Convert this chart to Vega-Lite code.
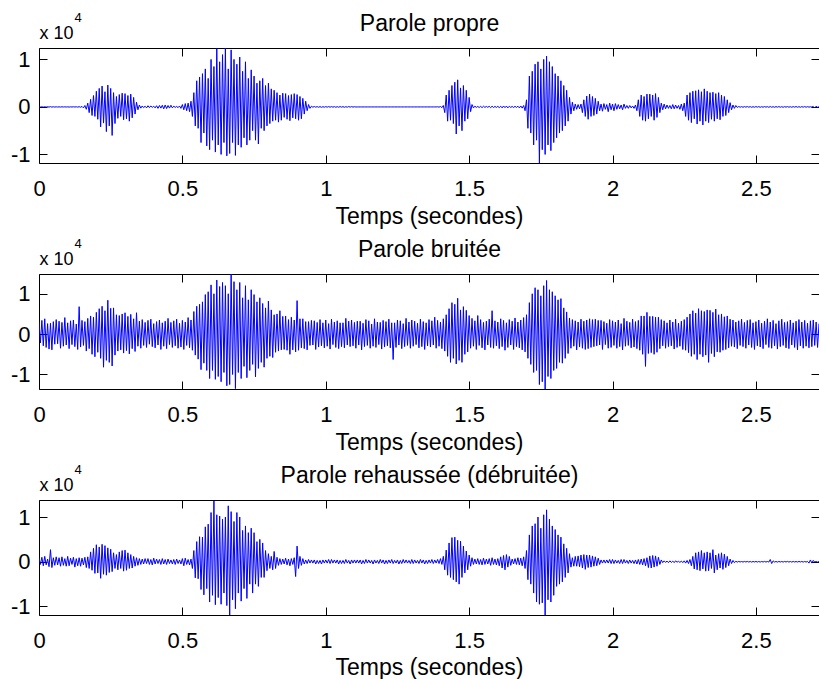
{
"$schema": "https://vega.github.io/schema/vega-lite/v6.json",
"padding": {"left": 10, "top": 11, "right": 0, "bottom": 0},
"spacing": 9,
"config": {
  "font": "Liberation Sans",
  "view": {"stroke": null},
  "axis": {"grid": false, "domainColor": "black", "tickColor": "black", "labelColor": "black", "titleColor": "black", "labelFont": "Liberation Sans", "titleFont": "Liberation Sans", "labelFontSize": 22, "titleFontSize": 23, "titleFontWeight": "normal", "tickSize": -8, "domainWidth": 1, "tickWidth": 1}
},
"data": {"values": [
{"t":0,"a":0,"b":3000,"c":800},
{"t":0.005,"a":-10,"b":-2200,"c":-600},
{"t":0.01,"a":20,"b":3400,"c":1000},
{"t":0.015,"a":-30,"b":-2900,"c":-900},
{"t":0.02,"a":30,"b":3800,"c":1200},
{"t":0.025,"a":-40,"b":-3300,"c":-700},
{"t":0.03,"a":50,"b":2600,"c":600},
{"t":0.035,"a":-40,"b":-3700,"c":-1100},
{"t":0.04,"a":60,"b":2700,"c":2700},
{"t":0.045,"a":-50,"b":-3900,"c":-1300},
{"t":0.05,"a":40,"b":3100,"c":900},
{"t":0.055,"a":-30,"b":-2500,"c":-800},
{"t":0.06,"a":20,"b":3600,"c":1100},
{"t":0.065,"a":-20,"b":-2400,"c":-700},
{"t":0.07,"a":20,"b":3200,"c":900},
{"t":0.075,"a":-30,"b":-3500,"c":-1000},
{"t":0.08,"a":30,"b":2900,"c":1100},
{"t":0.085,"a":-20,"b":-3000,"c":-800},
{"t":0.09,"a":20,"b":4100,"c":700},
{"t":0.095,"a":-20,"b":-2700,"c":-1000},
{"t":0.1,"a":20,"b":2800,"c":1200},
{"t":0.105,"a":-30,"b":-3600,"c":-900},
{"t":0.11,"a":20,"b":3300,"c":800},
{"t":0.115,"a":-20,"b":-2600,"c":-600},
{"t":0.12,"a":30,"b":3500,"c":1000},
{"t":0.125,"a":-20,"b":-3100,"c":-1200},
{"t":0.13,"a":30,"b":2500,"c":700},
{"t":0.135,"a":-40,"b":-3800,"c":-900},
{"t":0.14,"a":50,"b":6800,"c":900},
{"t":0.145,"a":-60,"b":-3200,"c":-1000},
{"t":0.15,"a":100,"b":3400,"c":800},
{"t":0.155,"a":-200,"b":-2800,"c":-700},
{"t":0.16,"a":300,"b":3100,"c":1000},
{"t":0.165,"a":-500,"b":-4200,"c":-1300},
{"t":0.17,"a":800,"b":3900,"c":1100},
{"t":0.175,"a":-1200,"b":-3600,"c":-1500},
{"t":0.18,"a":1600,"b":4500,"c":2200},
{"t":0.185,"a":-1800,"b":-5000,"c":-1900},
{"t":0.19,"a":2400,"b":4200,"c":3000},
{"t":0.195,"a":-2000,"b":-5600,"c":-2600},
{"t":0.2,"a":3300,"b":5400,"c":3800},
{"t":0.205,"a":-2600,"b":-4500,"c":-2500},
{"t":0.21,"a":3900,"b":6300,"c":3300},
{"t":0.215,"a":-4200,"b":-6000,"c":-3700},
{"t":0.22,"a":4400,"b":6900,"c":3900},
{"t":0.225,"a":-3400,"b":-8200,"c":-2800},
{"t":0.23,"a":3200,"b":5800,"c":3600},
{"t":0.235,"a":-5200,"b":-6500,"c":-3000},
{"t":0.24,"a":4600,"b":8400,"c":3100},
{"t":0.245,"a":-4000,"b":-7000,"c":-2400},
{"t":0.25,"a":3900,"b":6400,"c":2800},
{"t":0.255,"a":-6000,"b":-7900,"c":-2200},
{"t":0.26,"a":3000,"b":6500,"c":2000},
{"t":0.265,"a":-3500,"b":-5200,"c":-1500},
{"t":0.27,"a":2200,"b":4800,"c":1600},
{"t":0.275,"a":-2400,"b":-4200,"c":-1800},
{"t":0.28,"a":2600,"b":4600,"c":2200},
{"t":0.285,"a":-2000,"b":-3900,"c":-1500},
{"t":0.29,"a":2900,"b":5000,"c":2500},
{"t":0.295,"a":-2700,"b":-4700,"c":-2100},
{"t":0.3,"a":2800,"b":5300,"c":2600},
{"t":0.305,"a":-2500,"b":-4100,"c":-1900},
{"t":0.31,"a":2400,"b":4400,"c":2000},
{"t":0.315,"a":-3000,"b":-4900,"c":-1500},
{"t":0.32,"a":2700,"b":4900,"c":1600},
{"t":0.325,"a":-2300,"b":-3600,"c":-1400},
{"t":0.33,"a":2000,"b":3800,"c":1200},
{"t":0.335,"a":-1500,"b":-4300,"c":-1000},
{"t":0.34,"a":1000,"b":5300,"c":900},
{"t":0.345,"a":-600,"b":-3000,"c":-800},
{"t":0.35,"a":400,"b":3200,"c":700},
{"t":0.355,"a":-250,"b":-3500,"c":-600},
{"t":0.36,"a":200,"b":3600,"c":600},
{"t":0.365,"a":-150,"b":-2800,"c":-500},
{"t":0.37,"a":150,"b":2900,"c":700},
{"t":0.375,"a":-200,"b":-3300,"c":-400},
{"t":0.38,"a":250,"b":3400,"c":700},
{"t":0.385,"a":-150,"b":-2500,"c":-600},
{"t":0.39,"a":200,"b":3700,"c":500},
{"t":0.395,"a":-100,"b":-3100,"c":-700},
{"t":0.4,"a":150,"b":2600,"c":800},
{"t":0.405,"a":-200,"b":-3400,"c":-500},
{"t":0.41,"a":250,"b":3100,"c":600},
{"t":0.415,"a":-300,"b":-2700,"c":-400},
{"t":0.42,"a":300,"b":3500,"c":500},
{"t":0.425,"a":-250,"b":-3800,"c":-600},
{"t":0.43,"a":350,"b":2800,"c":700},
{"t":0.435,"a":-400,"b":-3000,"c":-500},
{"t":0.44,"a":400,"b":3200,"c":500},
{"t":0.445,"a":-350,"b":-3600,"c":-600},
{"t":0.45,"a":300,"b":3900,"c":600},
{"t":0.455,"a":-250,"b":-2600,"c":-400},
{"t":0.46,"a":350,"b":2900,"c":400},
{"t":0.465,"a":-200,"b":-3300,"c":-500},
{"t":0.47,"a":150,"b":3300,"c":500},
{"t":0.475,"a":-100,"b":-2900,"c":-600},
{"t":0.48,"a":100,"b":3700,"c":600},
{"t":0.485,"a":-150,"b":-3500,"c":-400},
{"t":0.49,"a":200,"b":2700,"c":400},
{"t":0.495,"a":-300,"b":-3200,"c":-500},
{"t":0.5,"a":500,"b":3400,"c":700},
{"t":0.505,"a":-600,"b":-3800,"c":-900},
{"t":0.51,"a":700,"b":3000,"c":800},
{"t":0.515,"a":-800,"b":-2800,"c":-600},
{"t":0.52,"a":800,"b":4100,"c":500},
{"t":0.525,"a":-1000,"b":-3400,"c":-700},
{"t":0.53,"a":1200,"b":3500,"c":600},
{"t":0.535,"a":-2000,"b":-4000,"c":-1500},
{"t":0.54,"a":3000,"b":5600,"c":2500},
{"t":0.545,"a":-4000,"b":-5200,"c":-3600},
{"t":0.55,"a":5500,"b":6900,"c":4500},
{"t":0.555,"a":-4500,"b":-6200,"c":-3800},
{"t":0.56,"a":6300,"b":7400,"c":5600},
{"t":0.565,"a":-7500,"b":-8800,"c":-6200},
{"t":0.57,"a":7000,"b":8000,"c":5500},
{"t":0.575,"a":-5500,"b":-7200,"c":-7400},
{"t":0.58,"a":8000,"b":9800,"c":7800},
{"t":0.585,"a":-8200,"b":-9000,"c":-6000},
{"t":0.59,"a":6000,"b":10500,"c":8400},
{"t":0.595,"a":-9000,"b":-11000,"c":-9000},
{"t":0.6,"a":10000,"b":12200,"c":11000},
{"t":0.605,"a":-7000,"b":-9000,"c":-7500},
{"t":0.61,"a":8500,"b":10000,"c":13600},
{"t":0.615,"a":-9500,"b":-11200,"c":-9600},
{"t":0.62,"a":12300,"b":13400,"c":10500},
{"t":0.625,"a":-8000,"b":-10500,"c":-8000},
{"t":0.63,"a":9500,"b":11800,"c":10200},
{"t":0.635,"a":-10000,"b":-11800,"c":-9500},
{"t":0.64,"a":11000,"b":12800,"c":9500},
{"t":0.645,"a":-7500,"b":-9500,"c":-7000},
{"t":0.65,"a":12400,"b":12000,"c":10000},
{"t":0.655,"a":-10300,"b":-12800,"c":-9800},
{"t":0.66,"a":8000,"b":10000,"c":12500},
{"t":0.665,"a":-9800,"b":-12500,"c":-11900},
{"t":0.67,"a":12000,"b":14900,"c":11200},
{"t":0.675,"a":-7500,"b":-10000,"c":-8500},
{"t":0.68,"a":10000,"b":13000,"c":9000},
{"t":0.685,"a":-10200,"b":-13500,"c":-10500},
{"t":0.69,"a":9000,"b":11000,"c":11000},
{"t":0.695,"a":-8000,"b":-9500,"c":-7000},
{"t":0.7,"a":10500,"b":12800,"c":10000},
{"t":0.705,"a":-8500,"b":-11000,"c":-8800},
{"t":0.71,"a":7500,"b":9000,"c":7000},
{"t":0.715,"a":-6500,"b":-8000,"c":-6000},
{"t":0.72,"a":9500,"b":12000,"c":8000},
{"t":0.725,"a":-8000,"b":-10800,"c":-8200},
{"t":0.73,"a":6000,"b":8500,"c":6500},
{"t":0.735,"a":-7000,"b":-9000,"c":-5000},
{"t":0.74,"a":7800,"b":11000,"c":7500},
{"t":0.745,"a":-5000,"b":-7500,"c":-7000},
{"t":0.75,"a":6500,"b":9800,"c":6500},
{"t":0.755,"a":-7000,"b":-10600,"c":-5000},
{"t":0.76,"a":5000,"b":8000,"c":4500},
{"t":0.765,"a":-7800,"b":-8500,"c":-5500},
{"t":0.77,"a":5500,"b":9000,"c":5000},
{"t":0.775,"a":-4500,"b":-7000,"c":-3500},
{"t":0.78,"a":6000,"b":7600,"c":4200},
{"t":0.785,"a":-5000,"b":-8200,"c":-3500},
{"t":0.79,"a":4500,"b":6500,"c":2500},
{"t":0.795,"a":-4000,"b":-6000,"c":-2000},
{"t":0.8,"a":5000,"b":8200,"c":1800},
{"t":0.805,"a":-3500,"b":-5500,"c":-1500},
{"t":0.81,"a":3800,"b":6000,"c":1200},
{"t":0.815,"a":-3000,"b":-5800,"c":-1800},
{"t":0.82,"a":3500,"b":4800,"c":2300},
{"t":0.825,"a":-2800,"b":-4500,"c":-1500},
{"t":0.83,"a":3000,"b":5000,"c":1000},
{"t":0.835,"a":-3200,"b":-4200,"c":-800},
{"t":0.84,"a":2500,"b":5800,"c":700},
{"t":0.845,"a":-2800,"b":-3900,"c":-600},
{"t":0.85,"a":2900,"b":4400,"c":600},
{"t":0.855,"a":-2200,"b":-3800,"c":-500},
{"t":0.86,"a":2800,"b":4500,"c":800},
{"t":0.865,"a":-2600,"b":-4000,"c":-700},
{"t":0.87,"a":2400,"b":3600,"c":600},
{"t":0.875,"a":-2900,"b":-5000,"c":-900},
{"t":0.88,"a":2600,"b":4200,"c":700},
{"t":0.885,"a":-2300,"b":-3900,"c":-600},
{"t":0.89,"a":2800,"b":3500,"c":900},
{"t":0.895,"a":-2500,"b":-4400,"c":-3300},
{"t":0.9,"a":2600,"b":8300,"c":3500},
{"t":0.905,"a":-2800,"b":-4000,"c":-1500},
{"t":0.91,"a":2200,"b":3800,"c":1200},
{"t":0.915,"a":-2500,"b":-3400,"c":-800},
{"t":0.92,"a":1800,"b":3800,"c":700},
{"t":0.925,"a":-1500,"b":-3600,"c":-500},
{"t":0.93,"a":1200,"b":3100,"c":400},
{"t":0.935,"a":-800,"b":-3900,"c":-400},
{"t":0.94,"a":500,"b":3100,"c":500},
{"t":0.945,"a":-300,"b":-2800,"c":-300},
{"t":0.95,"a":150,"b":3400,"c":400},
{"t":0.955,"a":-60,"b":-2700,"c":-300},
{"t":0.96,"a":80,"b":3300,"c":400},
{"t":0.965,"a":-50,"b":-3800,"c":-500},
{"t":0.97,"a":60,"b":2900,"c":300},
{"t":0.975,"a":-70,"b":-3200,"c":-400},
{"t":0.98,"a":70,"b":3600,"c":300},
{"t":0.985,"a":-80,"b":-2900,"c":-500},
{"t":0.99,"a":50,"b":2800,"c":400},
{"t":0.995,"a":-60,"b":-3400,"c":-300},
{"t":1,"a":60,"b":3500,"c":400},
{"t":1.005,"a":-50,"b":-3000,"c":-300},
{"t":1.01,"a":70,"b":2600,"c":500},
{"t":1.015,"a":-60,"b":-3700,"c":-400},
{"t":1.02,"a":70,"b":3700,"c":500},
{"t":1.025,"a":-50,"b":-2600,"c":-300},
{"t":1.03,"a":60,"b":3000,"c":400},
{"t":1.035,"a":-70,"b":-3300,"c":-300},
{"t":1.04,"a":50,"b":3300,"c":400},
{"t":1.045,"a":-60,"b":-3600,"c":-500},
{"t":1.05,"a":70,"b":2800,"c":300},
{"t":1.055,"a":-50,"b":-3100,"c":-400},
{"t":1.06,"a":60,"b":2800,"c":300},
{"t":1.065,"a":-70,"b":-3400,"c":-400},
{"t":1.07,"a":50,"b":3900,"c":500},
{"t":1.075,"a":-60,"b":-2700,"c":-300},
{"t":1.08,"a":80,"b":3200,"c":300},
{"t":1.085,"a":-50,"b":-3100,"c":-500},
{"t":1.09,"a":60,"b":3500,"c":400},
{"t":1.095,"a":-40,"b":-2900,"c":-300},
{"t":1.1,"a":40,"b":2900,"c":400},
{"t":1.105,"a":-20,"b":-3500,"c":-300},
{"t":1.11,"a":0,"b":3200,"c":400},
{"t":1.115,"a":0,"b":-2700,"c":-300},
{"t":1.12,"a":0,"b":3200,"c":400},
{"t":1.125,"a":0,"b":-3900,"c":-500},
{"t":1.13,"a":0,"b":2700,"c":300},
{"t":1.135,"a":0,"b":-3100,"c":-400},
{"t":1.14,"a":0,"b":3600,"c":500},
{"t":1.145,"a":0,"b":-2800,"c":-300},
{"t":1.15,"a":0,"b":3300,"c":400},
{"t":1.155,"a":0,"b":-3500,"c":-300},
{"t":1.16,"a":0,"b":2500,"c":300},
{"t":1.165,"a":0,"b":-3000,"c":-500},
{"t":1.17,"a":0,"b":3800,"c":400},
{"t":1.175,"a":0,"b":-3300,"c":-300},
{"t":1.18,"a":0,"b":3000,"c":300},
{"t":1.185,"a":0,"b":-2600,"c":-400},
{"t":1.19,"a":0,"b":2900,"c":500},
{"t":1.195,"a":0,"b":-3700,"c":-300},
{"t":1.2,"a":0,"b":3400,"c":400},
{"t":1.205,"a":0,"b":-3200,"c":-500},
{"t":1.21,"a":0,"b":3100,"c":300},
{"t":1.215,"a":0,"b":-2900,"c":-400},
{"t":1.22,"a":0,"b":3700,"c":400},
{"t":1.225,"a":0,"b":-3400,"c":-300},
{"t":1.23,"a":0,"b":2800,"c":500},
{"t":1.235,"a":0,"b":-6300,"c":-400},
{"t":1.24,"a":0,"b":2800,"c":300},
{"t":1.245,"a":0,"b":-3300,"c":-300},
{"t":1.25,"a":0,"b":3500,"c":400},
{"t":1.255,"a":0,"b":-2700,"c":-500},
{"t":1.26,"a":0,"b":3300,"c":300},
{"t":1.265,"a":0,"b":-3600,"c":-400},
{"t":1.27,"a":0,"b":2600,"c":500},
{"t":1.275,"a":0,"b":-3100,"c":-300},
{"t":1.28,"a":0,"b":3900,"c":400},
{"t":1.285,"a":0,"b":-2800,"c":-300},
{"t":1.29,"a":0,"b":3000,"c":300},
{"t":1.295,"a":0,"b":-3500,"c":-400},
{"t":1.3,"a":0,"b":3500,"c":500},
{"t":1.305,"a":0,"b":-3000,"c":-400},
{"t":1.31,"a":0,"b":3200,"c":400},
{"t":1.315,"a":0,"b":-2600,"c":-300},
{"t":1.32,"a":0,"b":2700,"c":300},
{"t":1.325,"a":0,"b":-3400,"c":-400},
{"t":1.33,"a":0,"b":3700,"c":500},
{"t":1.335,"a":0,"b":-3100,"c":-300},
{"t":1.34,"a":0,"b":3100,"c":400},
{"t":1.345,"a":0,"b":-3800,"c":-500},
{"t":1.35,"a":0,"b":2800,"c":300},
{"t":1.355,"a":0,"b":-2900,"c":-400},
{"t":1.36,"a":0,"b":3600,"c":400},
{"t":1.365,"a":0,"b":-3200,"c":-300},
{"t":1.37,"a":0,"b":3300,"c":500},
{"t":1.375,"a":0,"b":-2700,"c":-400},
{"t":1.38,"a":0,"b":4200,"c":400},
{"t":1.385,"a":0,"b":-3500,"c":-300},
{"t":1.39,"a":20,"b":3400,"c":500},
{"t":1.395,"a":-40,"b":-3000,"c":-400},
{"t":1.4,"a":80,"b":3000,"c":700},
{"t":1.405,"a":-150,"b":-3600,"c":-600},
{"t":1.41,"a":300,"b":3800,"c":1200},
{"t":1.415,"a":-1200,"b":-4200,"c":-1800},
{"t":1.42,"a":2500,"b":4800,"c":2600},
{"t":1.425,"a":-3000,"b":-5500,"c":-3000},
{"t":1.43,"a":3500,"b":6300,"c":4200},
{"t":1.435,"a":-2800,"b":-7000,"c":-3500},
{"t":1.44,"a":4500,"b":7800,"c":5400},
{"t":1.445,"a":-3500,"b":-6000,"c":-4000},
{"t":1.45,"a":5200,"b":7400,"c":5500},
{"t":1.455,"a":-5700,"b":-7400,"c":-4500},
{"t":1.46,"a":5700,"b":8900,"c":4800},
{"t":1.465,"a":-4000,"b":-6500,"c":-5000},
{"t":1.47,"a":4000,"b":6000,"c":4600},
{"t":1.475,"a":-5000,"b":-7000,"c":-3500},
{"t":1.48,"a":4500,"b":6800,"c":3500},
{"t":1.485,"a":-3000,"b":-5000,"c":-2500},
{"t":1.49,"a":3500,"b":5900,"c":2400},
{"t":1.495,"a":-2500,"b":-4400,"c":-1800},
{"t":1.5,"a":2000,"b":4600,"c":1500},
{"t":1.505,"a":-1000,"b":-3500,"c":-1000},
{"t":1.51,"a":500,"b":3900,"c":900},
{"t":1.515,"a":-200,"b":-3000,"c":-600},
{"t":1.52,"a":150,"b":3300,"c":600},
{"t":1.525,"a":-100,"b":-3800,"c":-500},
{"t":1.53,"a":100,"b":4600,"c":700},
{"t":1.535,"a":-120,"b":-2800,"c":-600},
{"t":1.54,"a":120,"b":3600,"c":500},
{"t":1.545,"a":-150,"b":-3400,"c":-700},
{"t":1.55,"a":150,"b":2900,"c":800},
{"t":1.555,"a":-100,"b":-3900,"c":-600},
{"t":1.56,"a":100,"b":3200,"c":600},
{"t":1.565,"a":-80,"b":-2700,"c":-500},
{"t":1.57,"a":120,"b":3700,"c":700},
{"t":1.575,"a":-150,"b":-3300,"c":-800},
{"t":1.58,"a":150,"b":5800,"c":900},
{"t":1.585,"a":-120,"b":-3500,"c":-600},
{"t":1.59,"a":100,"b":3300,"c":600},
{"t":1.595,"a":-100,"b":-2900,"c":-700},
{"t":1.6,"a":120,"b":3000,"c":700},
{"t":1.605,"a":-150,"b":-3600,"c":-900},
{"t":1.61,"a":150,"b":3800,"c":1100},
{"t":1.615,"a":-200,"b":-3100,"c":-1400},
{"t":1.62,"a":200,"b":3400,"c":1400},
{"t":1.625,"a":-150,"b":-4000,"c":-1800},
{"t":1.63,"a":180,"b":2800,"c":1600},
{"t":1.635,"a":-200,"b":-3300,"c":-1200},
{"t":1.64,"a":150,"b":3600,"c":1200},
{"t":1.645,"a":-100,"b":-2700,"c":-800},
{"t":1.65,"a":100,"b":3200,"c":600},
{"t":1.655,"a":-120,"b":-3800,"c":-500},
{"t":1.66,"a":120,"b":4000,"c":700},
{"t":1.665,"a":-100,"b":-3100,"c":-600},
{"t":1.67,"a":150,"b":3000,"c":900},
{"t":1.675,"a":-200,"b":-3400,"c":-700},
{"t":1.68,"a":200,"b":3500,"c":800},
{"t":1.685,"a":-250,"b":-3900,"c":-900},
{"t":1.69,"a":300,"b":4100,"c":1100},
{"t":1.695,"a":-800,"b":-4400,"c":-1500},
{"t":1.7,"a":1500,"b":4800,"c":2500},
{"t":1.705,"a":-4500,"b":-6000,"c":-4000},
{"t":1.71,"a":6500,"b":7800,"c":6000},
{"t":1.715,"a":-5500,"b":-7500,"c":-5000},
{"t":1.72,"a":7500,"b":10000,"c":8000},
{"t":1.725,"a":-8000,"b":-9500,"c":-7000},
{"t":1.73,"a":9000,"b":11500,"c":8500},
{"t":1.735,"a":-7000,"b":-9000,"c":-9000},
{"t":1.74,"a":9500,"b":11000,"c":10000},
{"t":1.745,"a":-11800,"b":-12500,"c":-9500},
{"t":1.75,"a":8000,"b":9500,"c":7500},
{"t":1.755,"a":-9000,"b":-11800,"c":-9200},
{"t":1.76,"a":10000,"b":12000,"c":10500},
{"t":1.765,"a":-10000,"b":-13600,"c":-11900},
{"t":1.77,"a":10700,"b":13300,"c":11600},
{"t":1.775,"a":-8000,"b":-10500,"c":-8500},
{"t":1.78,"a":9500,"b":11000,"c":9500},
{"t":1.785,"a":-9200,"b":-11000,"c":-9000},
{"t":1.79,"a":8500,"b":10500,"c":8000},
{"t":1.795,"a":-7500,"b":-9000,"c":-7500},
{"t":1.8,"a":7000,"b":9500,"c":7200},
{"t":1.805,"a":-6500,"b":-8500,"c":-5500},
{"t":1.81,"a":6500,"b":8500,"c":6000},
{"t":1.815,"a":-5500,"b":-7000,"c":-5000},
{"t":1.82,"a":5500,"b":8800,"c":5500},
{"t":1.825,"a":-5000,"b":-7200,"c":-4500},
{"t":1.83,"a":4500,"b":6500,"c":4000},
{"t":1.835,"a":-4000,"b":-6000,"c":-3500},
{"t":1.84,"a":3500,"b":5500,"c":3000},
{"t":1.845,"a":-3000,"b":-4800,"c":-2500},
{"t":1.85,"a":2000,"b":4000,"c":1800},
{"t":1.855,"a":-1500,"b":-3500,"c":-1200},
{"t":1.86,"a":1000,"b":3600,"c":900},
{"t":1.865,"a":-800,"b":-3000,"c":-1000},
{"t":1.87,"a":600,"b":3300,"c":1200},
{"t":1.875,"a":-500,"b":-3900,"c":-1000},
{"t":1.88,"a":500,"b":3000,"c":1300},
{"t":1.885,"a":-400,"b":-3200,"c":-1100},
{"t":1.89,"a":600,"b":3700,"c":1500},
{"t":1.895,"a":-1200,"b":-3500,"c":-1400},
{"t":1.9,"a":1500,"b":3200,"c":1600},
{"t":1.905,"a":-2000,"b":-3800,"c":-1700},
{"t":1.91,"a":2300,"b":3500,"c":1500},
{"t":1.915,"a":-2600,"b":-3600,"c":-1300},
{"t":1.92,"a":2700,"b":3800,"c":1500},
{"t":1.925,"a":-2000,"b":-3300,"c":-1200},
{"t":1.93,"a":2200,"b":3600,"c":1300},
{"t":1.935,"a":-1800,"b":-3100,"c":-1000},
{"t":1.94,"a":1800,"b":3700,"c":1100},
{"t":1.945,"a":-1500,"b":-2900,"c":-900},
{"t":1.95,"a":1200,"b":3400,"c":800},
{"t":1.955,"a":-800,"b":-2700,"c":-600},
{"t":1.96,"a":600,"b":3400,"c":400},
{"t":1.965,"a":-900,"b":-3800,"c":-300},
{"t":1.97,"a":700,"b":3100,"c":400},
{"t":1.975,"a":-500,"b":-2600,"c":-300},
{"t":1.98,"a":500,"b":2700,"c":400},
{"t":1.985,"a":-1000,"b":-3500,"c":-300},
{"t":1.99,"a":800,"b":3600,"c":500},
{"t":1.995,"a":-600,"b":-3300,"c":-400},
{"t":2,"a":600,"b":3300,"c":500},
{"t":2.005,"a":-800,"b":-2800,"c":-400},
{"t":2.01,"a":700,"b":3000,"c":400},
{"t":2.015,"a":-500,"b":-3500,"c":-300},
{"t":2.02,"a":500,"b":3500,"c":300},
{"t":2.025,"a":-400,"b":-3100,"c":-400},
{"t":2.03,"a":400,"b":2600,"c":500},
{"t":2.035,"a":-600,"b":-3900,"c":-400},
{"t":2.04,"a":600,"b":3900,"c":500},
{"t":2.045,"a":-300,"b":-3000,"c":-300},
{"t":2.05,"a":300,"b":3200,"c":300},
{"t":2.055,"a":-300,"b":-2800,"c":-400},
{"t":2.06,"a":300,"b":2900,"c":400},
{"t":2.065,"a":-200,"b":-3400,"c":-300},
{"t":2.07,"a":200,"b":3700,"c":300},
{"t":2.075,"a":-300,"b":-3200,"c":-400},
{"t":2.08,"a":400,"b":3100,"c":400},
{"t":2.085,"a":-800,"b":-3600,"c":-500},
{"t":2.09,"a":1500,"b":3400,"c":500},
{"t":2.095,"a":-2000,"b":-4000,"c":-600},
{"t":2.1,"a":2500,"b":4500,"c":600},
{"t":2.105,"a":-2800,"b":-5000,"c":-700},
{"t":2.11,"a":2200,"b":4500,"c":700},
{"t":2.115,"a":-3000,"b":-8000,"c":-900},
{"t":2.12,"a":2700,"b":5400,"c":900},
{"t":2.125,"a":-2500,"b":-4800,"c":-1300},
{"t":2.13,"a":2700,"b":4400,"c":1300},
{"t":2.135,"a":-2000,"b":-4600,"c":-1400},
{"t":2.14,"a":2500,"b":4400,"c":1400},
{"t":2.145,"a":-2800,"b":-5000,"c":-1200},
{"t":2.15,"a":2800,"b":4200,"c":1300},
{"t":2.155,"a":-2200,"b":-4500,"c":-1000},
{"t":2.16,"a":2000,"b":4200,"c":1000},
{"t":2.165,"a":-1200,"b":-3600,"c":-600},
{"t":2.17,"a":800,"b":3600,"c":400},
{"t":2.175,"a":-600,"b":-2900,"c":-200},
{"t":2.18,"a":600,"b":3300,"c":200},
{"t":2.185,"a":-400,"b":-3500,"c":-150},
{"t":2.19,"a":400,"b":2800,"c":150},
{"t":2.195,"a":-300,"b":-3100,"c":-200},
{"t":2.2,"a":300,"b":3500,"c":200},
{"t":2.205,"a":-400,"b":-2900,"c":-150},
{"t":2.21,"a":500,"b":3000,"c":150},
{"t":2.215,"a":-400,"b":-3700,"c":-200},
{"t":2.22,"a":400,"b":3700,"c":200},
{"t":2.225,"a":-300,"b":-3300,"c":-100},
{"t":2.23,"a":300,"b":2700,"c":100},
{"t":2.235,"a":-500,"b":-3000,"c":-150},
{"t":2.24,"a":600,"b":3200,"c":150},
{"t":2.245,"a":-800,"b":-3800,"c":-200},
{"t":2.25,"a":800,"b":3600,"c":200},
{"t":2.255,"a":-2000,"b":-4000,"c":-300},
{"t":2.26,"a":2500,"b":4200,"c":300},
{"t":2.265,"a":-2800,"b":-4600,"c":-400},
{"t":2.27,"a":3000,"b":5000,"c":500},
{"t":2.275,"a":-3300,"b":-5500,"c":-900},
{"t":2.28,"a":3300,"b":5800,"c":1200},
{"t":2.285,"a":-2500,"b":-5000,"c":-1600},
{"t":2.29,"a":3400,"b":5200,"c":2000},
{"t":2.295,"a":-3600,"b":-6300,"c":-1800},
{"t":2.3,"a":3600,"b":6300,"c":2200},
{"t":2.305,"a":-3000,"b":-5000,"c":-2000},
{"t":2.31,"a":3200,"b":5800,"c":2500},
{"t":2.315,"a":-3800,"b":-5600,"c":-1600},
{"t":2.32,"a":3800,"b":5600,"c":2000},
{"t":2.325,"a":-3000,"b":-5200,"c":-2100},
{"t":2.33,"a":3300,"b":6000,"c":2200},
{"t":2.335,"a":-3300,"b":-7000,"c":-2000},
{"t":2.34,"a":3000,"b":5900,"c":2000},
{"t":2.345,"a":-2600,"b":-4800,"c":-1500},
{"t":2.35,"a":3100,"b":5400,"c":2700},
{"t":2.355,"a":-3000,"b":-5600,"c":-2500},
{"t":2.36,"a":2800,"b":6200,"c":1500},
{"t":2.365,"a":-2500,"b":-4400,"c":-1800},
{"t":2.37,"a":3000,"b":4800,"c":1800},
{"t":2.375,"a":-2700,"b":-4500,"c":-1400},
{"t":2.38,"a":2500,"b":5000,"c":2000},
{"t":2.385,"a":-2000,"b":-4000,"c":-1700},
{"t":2.39,"a":2200,"b":4300,"c":1700},
{"t":2.395,"a":-1800,"b":-3800,"c":-1300},
{"t":2.4,"a":1500,"b":4500,"c":1200},
{"t":2.405,"a":-1200,"b":-3400,"c":-900},
{"t":2.41,"a":900,"b":3700,"c":600},
{"t":2.415,"a":-600,"b":-3000,"c":-400},
{"t":2.42,"a":400,"b":3500,"c":300},
{"t":2.425,"a":-300,"b":-3200,"c":-200},
{"t":2.43,"a":300,"b":3000,"c":100},
{"t":2.435,"a":-100,"b":-3600,"c":-80},
{"t":2.44,"a":80,"b":3300,"c":80},
{"t":2.445,"a":-60,"b":-2800,"c":-60},
{"t":2.45,"a":60,"b":3700,"c":60},
{"t":2.455,"a":-70,"b":-3100,"c":-80},
{"t":2.46,"a":70,"b":2900,"c":70},
{"t":2.465,"a":-50,"b":-3500,"c":-60},
{"t":2.47,"a":80,"b":3400,"c":80},
{"t":2.475,"a":-60,"b":-2700,"c":-70},
{"t":2.48,"a":60,"b":3600,"c":60},
{"t":2.485,"a":-70,"b":-3300,"c":-80},
{"t":2.49,"a":50,"b":2800,"c":70},
{"t":2.495,"a":-60,"b":-3800,"c":-60},
{"t":2.5,"a":70,"b":3100,"c":80},
{"t":2.505,"a":-50,"b":-2900,"c":-70},
{"t":2.51,"a":60,"b":3500,"c":60},
{"t":2.515,"a":-70,"b":-3200,"c":-80},
{"t":2.52,"a":50,"b":2700,"c":70},
{"t":2.525,"a":-60,"b":-3600,"c":-60},
{"t":2.53,"a":70,"b":3200,"c":80},
{"t":2.535,"a":-50,"b":-2600,"c":-70},
{"t":2.54,"a":60,"b":3800,"c":60},
{"t":2.545,"a":-80,"b":-3300,"c":-80},
{"t":2.55,"a":80,"b":3000,"c":500},
{"t":2.555,"a":-60,"b":-3500,"c":-400},
{"t":2.56,"a":50,"b":3400,"c":200},
{"t":2.565,"a":-70,"b":-2900,"c":-70},
{"t":2.57,"a":60,"b":2600,"c":60},
{"t":2.575,"a":-50,"b":-3700,"c":-80},
{"t":2.58,"a":70,"b":3300,"c":70},
{"t":2.585,"a":-60,"b":-3100,"c":-60},
{"t":2.59,"a":50,"b":3700,"c":60},
{"t":2.595,"a":-70,"b":-2800,"c":-80},
{"t":2.6,"a":60,"b":2900,"c":70},
{"t":2.605,"a":-50,"b":-3400,"c":-60},
{"t":2.61,"a":70,"b":3100,"c":80},
{"t":2.615,"a":-60,"b":-3600,"c":-70},
{"t":2.62,"a":50,"b":3500,"c":60},
{"t":2.625,"a":-70,"b":-2700,"c":-80},
{"t":2.63,"a":60,"b":2800,"c":70},
{"t":2.635,"a":-50,"b":-3300,"c":-60},
{"t":2.64,"a":80,"b":3200,"c":60},
{"t":2.645,"a":-60,"b":-3900,"c":-70},
{"t":2.65,"a":50,"b":3600,"c":80},
{"t":2.655,"a":-70,"b":-2900,"c":-60},
{"t":2.66,"a":60,"b":3000,"c":70},
{"t":2.665,"a":-50,"b":-3500,"c":-80},
{"t":2.67,"a":70,"b":3400,"c":60},
{"t":2.675,"a":-60,"b":-3000,"c":-70},
{"t":2.68,"a":50,"b":2700,"c":80},
{"t":2.685,"a":-40,"b":-3400,"c":-300},
{"t":2.69,"a":30,"b":3300,"c":400},
{"t":2.695,"a":-20,"b":-3100,"c":-300},
{"t":2.7,"a":100,"b":3500,"c":300},
{"t":2.705,"a":-200,"b":-2800,"c":-80},
{"t":2.71,"a":150,"b":3000,"c":60},
{"t":2.715,"a":-80,"b":-3300,"c":-70},
{"t":2.72,"a":40,"b":2600,"c":50}
]},
"vconcat": [
{
 "width": 780, "height": 115,
 "layer": [
  {"mark": {"type": "line", "clip": true, "color": "#0000ff", "strokeWidth": 1},
   "encoding": {
    "x": {"field": "t", "type": "quantitative", "scale": {"domain": [0, 2.72], "nice": false, "zero": false},
          "axis": {"orient": "bottom", "values": [0, 0.5, 1, 1.5, 2, 2.5], "format": "~g", "labelFlush": false, "labelPadding": 23, "title": "Temps (secondes)", "titleBaseline": "alphabetic", "titleY": 60}},
    "y": {"field": "a", "type": "quantitative", "scale": {"domain": [-11800, 12400], "nice": false, "zero": false},
          "axis": {"orient": "left", "values": [-10000, 0, 10000], "labelExpr": "datum.value / 10000", "labelPadding": 17, "title": "x 10", "titleAngle": 0, "titleAlign": "left", "titleBaseline": "alphabetic", "titleX": 0, "titleY": -10, "titleFontSize": 18}}
   }},
  {"mark": {"type": "line", "clip": true, "strokeOpacity": 0},
   "encoding": {
    "x": {"field": "t", "type": "quantitative", "axis": {"orient": "top", "values": [0, 0.5, 1, 1.5, 2, 2.5], "labels": false, "title": "Parole propre", "titleBaseline": "alphabetic", "titleY": -18}},
    "y": {"field": "a", "type": "quantitative", "axis": {"orient": "right", "values": [-10000, 0, 10000], "labels": false, "title": "4", "titleAngle": 0, "titleAlign": "left", "titleBaseline": "alphabetic", "titleX": -745, "titleY": -27, "titleFontSize": 13}}
   }}
 ],
 "resolve": {"axis": {"x": "independent", "y": "independent"}}
},
{
 "width": 780, "height": 115,
 "layer": [
  {"mark": {"type": "line", "clip": true, "color": "#0000ff", "strokeWidth": 1},
   "encoding": {
    "x": {"field": "t", "type": "quantitative", "scale": {"domain": [0, 2.72], "nice": false, "zero": false},
          "axis": {"orient": "bottom", "values": [0, 0.5, 1, 1.5, 2, 2.5], "format": "~g", "labelFlush": false, "labelPadding": 23, "title": "Temps (secondes)", "titleBaseline": "alphabetic", "titleY": 60}},
    "y": {"field": "b", "type": "quantitative", "scale": {"domain": [-13600, 14900], "nice": false, "zero": false},
          "axis": {"orient": "left", "values": [-10000, 0, 10000], "labelExpr": "datum.value / 10000", "labelPadding": 17, "title": "x 10", "titleAngle": 0, "titleAlign": "left", "titleBaseline": "alphabetic", "titleX": 0, "titleY": -10, "titleFontSize": 18}}
   }},
  {"mark": {"type": "line", "clip": true, "strokeOpacity": 0},
   "encoding": {
    "x": {"field": "t", "type": "quantitative", "axis": {"orient": "top", "values": [0, 0.5, 1, 1.5, 2, 2.5], "labels": false, "title": "Parole bruitée", "titleBaseline": "alphabetic", "titleY": -18}},
    "y": {"field": "b", "type": "quantitative", "axis": {"orient": "right", "values": [-10000, 0, 10000], "labels": false, "title": "4", "titleAngle": 0, "titleAlign": "left", "titleBaseline": "alphabetic", "titleX": -745, "titleY": -27, "titleFontSize": 13}}
   }}
 ],
 "resolve": {"axis": {"x": "independent", "y": "independent"}}
},
{
 "width": 780, "height": 115,
 "layer": [
  {"mark": {"type": "line", "clip": true, "color": "#0000ff", "strokeWidth": 1},
   "encoding": {
    "x": {"field": "t", "type": "quantitative", "scale": {"domain": [0, 2.72], "nice": false, "zero": false},
          "axis": {"orient": "bottom", "values": [0, 0.5, 1, 1.5, 2, 2.5], "format": "~g", "labelFlush": false, "labelPadding": 23, "title": "Temps (secondes)", "titleBaseline": "alphabetic", "titleY": 59}},
    "y": {"field": "c", "type": "quantitative", "scale": {"domain": [-11900, 13800], "nice": false, "zero": false},
          "axis": {"orient": "left", "values": [-10000, 0, 10000], "labelExpr": "datum.value / 10000", "labelPadding": 17, "title": "x 10", "titleAngle": 0, "titleAlign": "left", "titleBaseline": "alphabetic", "titleX": 0, "titleY": -10, "titleFontSize": 18}}
   }},
  {"mark": {"type": "line", "clip": true, "strokeOpacity": 0},
   "encoding": {
    "x": {"field": "t", "type": "quantitative", "axis": {"orient": "top", "values": [0, 0.5, 1, 1.5, 2, 2.5], "labels": false, "title": "Parole rehaussée (débruitée)", "titleBaseline": "alphabetic", "titleY": -18}},
    "y": {"field": "c", "type": "quantitative", "axis": {"orient": "right", "values": [-10000, 0, 10000], "labels": false, "title": "4", "titleAngle": 0, "titleAlign": "left", "titleBaseline": "alphabetic", "titleX": -745, "titleY": -27, "titleFontSize": 13}}
   }}
 ],
 "resolve": {"axis": {"x": "independent", "y": "independent"}}
}
]
}
